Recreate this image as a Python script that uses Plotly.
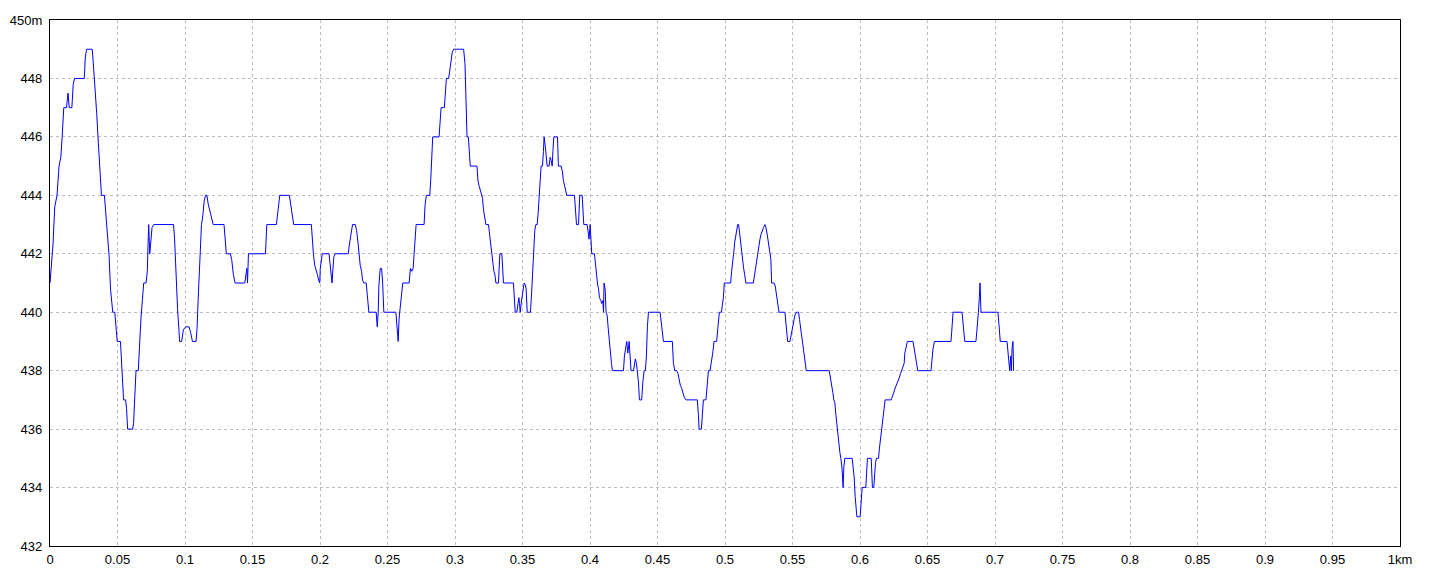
import plotly.graph_objects as go

# distance along the track (km) and elevation (m)
dist_km = [
    0, 0.001, 0.0022, 0.0035, 0.0052, 0.0067, 0.008, 0.009, 0.0102, 0.0122, 0.0134, 0.0142, 0.0162, 0.0172, 0.0182,
    0.0254, 0.0261, 0.0271, 0.0313, 0.0321, 0.0333, 0.0346, 0.0358, 0.0371, 0.0381, 0.0403, 0.0413, 0.0425, 0.0438,
    0.0448, 0.046, 0.0465, 0.048, 0.0488, 0.0498, 0.0522, 0.0527, 0.0537, 0.0545, 0.056, 0.0567, 0.0575, 0.0612,
    0.0619, 0.0629, 0.0637, 0.0654, 0.0664, 0.0674, 0.0684, 0.0694, 0.0711, 0.0721, 0.0726, 0.0731, 0.0739, 0.0749,
    0.0756, 0.0769, 0.0915, 0.0923, 0.093, 0.0938, 0.0945, 0.0955, 0.096, 0.0975, 0.0988, 0.1005, 0.103, 0.1042,
    0.1055, 0.1082, 0.109, 0.1097, 0.1104, 0.1112, 0.1122, 0.1132, 0.1142, 0.1152, 0.1162, 0.1172, 0.1184, 0.1197,
    0.1209, 0.1289, 0.1296, 0.1306, 0.1336, 0.1346, 0.1358, 0.1371, 0.1443, 0.1451, 0.1458, 0.1463, 0.147,
    0.1596, 0.1603, 0.1606, 0.1677, 0.1685, 0.1697, 0.1702, 0.1773, 0.1783, 0.1791, 0.1798, 0.1805, 0.1936, 0.1943,
    0.1951, 0.1961, 0.197, 0.198, 0.199, 0.1998, 0.2002, 0.201, 0.2017, 0.2067, 0.2074, 0.2081, 0.2089, 0.2096,
    0.2103, 0.2111, 0.2209, 0.2217, 0.2227, 0.2234, 0.2241, 0.2261, 0.2271, 0.2281, 0.2288, 0.2298, 0.2308, 0.2315,
    0.2325, 0.2342, 0.235, 0.2357, 0.2362, 0.2416, 0.2424, 0.2431, 0.2436, 0.2446, 0.2456, 0.2463, 0.2473, 0.2562,
    0.2571, 0.2579, 0.2586, 0.2596, 0.2606, 0.2613, 0.266, 0.267, 0.268, 0.269, 0.2697, 0.2704, 0.2712, 0.2771,
    0.2778, 0.2788, 0.2813, 0.282, 0.283, 0.2835, 0.2882, 0.2889, 0.2897, 0.2921, 0.2929, 0.2936, 0.2953, 0.2961,
    0.297, 0.298, 0.299, 0.3064, 0.3074, 0.3081, 0.3089, 0.3099, 0.3106, 0.3113, 0.3163, 0.317, 0.318, 0.3187, 0.3197,
    0.3204, 0.3211, 0.3221, 0.3229, 0.3248, 0.3256, 0.3263, 0.3271, 0.3278, 0.3288, 0.3295, 0.3303, 0.3322, 0.3327,
    0.3332, 0.3347, 0.3352, 0.3359, 0.3433, 0.3441, 0.3446, 0.3458, 0.3465, 0.3473, 0.3478, 0.3483, 0.349, 0.3498,
    0.3505, 0.3512, 0.352, 0.3527, 0.3535, 0.3559, 0.3569, 0.3576, 0.3584, 0.3591, 0.3599, 0.3609, 0.3616, 0.3623,
    0.3631, 0.3638, 0.3648, 0.3655, 0.366, 0.3668, 0.3675, 0.3683, 0.3697, 0.3705, 0.3712, 0.372, 0.3725, 0.3732,
    0.3759, 0.3766, 0.3786, 0.3796, 0.3803, 0.3811, 0.3818, 0.3828, 0.3885, 0.3892, 0.39, 0.3915, 0.3919, 0.3924,
    0.3942, 0.3947, 0.3954, 0.3979, 0.3986, 0.3993, 0.4001, 0.4008, 0.4013, 0.4033, 0.404, 0.4048, 0.4055, 0.4063,
    0.407, 0.408, 0.4087, 0.4095, 0.41, 0.4104, 0.4112, 0.4119, 0.4127, 0.4134, 0.4142, 0.4151, 0.4159, 0.4166,
    0.4248, 0.4255, 0.4265, 0.4272, 0.428, 0.429, 0.4297, 0.4304, 0.4322, 0.4329, 0.4336, 0.4344, 0.4351, 0.4359,
    0.4366, 0.4383, 0.4391, 0.4401, 0.441, 0.4418, 0.4425, 0.4433, 0.4519, 0.4529, 0.4536, 0.4544, 0.461, 0.4618,
    0.4628, 0.4642, 0.4652, 0.4662, 0.4669, 0.4679, 0.4689, 0.4697, 0.4711, 0.4795, 0.4803, 0.4808, 0.4825, 0.4832,
    0.484, 0.4859, 0.4869, 0.4877, 0.4889, 0.4899, 0.4909, 0.4919, 0.4938, 0.4948, 0.4958, 0.4973,
    0.4988, 0.4995, 0.5042, 0.5049, 0.5057, 0.5064, 0.5072, 0.5079, 0.5086, 0.5094, 0.5101, 0.5109, 0.5116, 0.5123,
    0.5131, 0.5138, 0.5145, 0.5155, 0.521, 0.5219, 0.5227, 0.5234, 0.5242, 0.5249, 0.5259, 0.5266, 0.5276, 0.5286,
    0.5296, 0.5303, 0.5313, 0.5321, 0.5333, 0.534, 0.5345, 0.5363, 0.5372, 0.5382, 0.5392, 0.54, 0.5444, 0.5454,
    0.5459, 0.5464, 0.5481, 0.5491, 0.5501, 0.551, 0.5518, 0.5528, 0.5545, 0.5552, 0.5562, 0.557, 0.5577, 0.5584,
    0.5594, 0.5602, 0.5772, 0.5782, 0.5789, 0.5799, 0.5806, 0.5814, 0.5821, 0.5829, 0.5836, 0.5844, 0.5851, 0.5858,
    0.5866, 0.5875, 0.588, 0.5888, 0.5942, 0.5949, 0.5957, 0.5964, 0.5972, 0.5977, 0.6001, 0.6009, 0.6016, 0.6043,
    0.6051, 0.6055, 0.6083, 0.6088, 0.6092, 0.6102, 0.6107, 0.6115, 0.6122, 0.6137, 0.6144, 0.6154, 0.6162, 0.6169,
    0.6176, 0.6186, 0.6231, 0.624, 0.625, 0.626, 0.627, 0.628, 0.629, 0.63, 0.6309, 0.6319, 0.6327, 0.6332, 0.6344,
    0.6351, 0.6393, 0.6401, 0.6408, 0.6418, 0.6428, 0.6526, 0.6534, 0.6541, 0.6551, 0.6674, 0.6682, 0.6689, 0.6756,
    0.6763, 0.6771, 0.6776, 0.6859, 0.6864, 0.6872, 0.6877, 0.6884, 0.6889, 0.6896, 0.7022, 0.7029, 0.7034, 0.7039,
    0.7089, 0.7096, 0.7104, 0.7109, 0.7116, 0.7121, 0.7126, 0.7133, 0.7138,
]

elev_m = [
    441, 441.5, 442.3, 443.6, 444, 445, 445.3, 446, 447, 447, 447.5, 447, 447, 447.8, 448,
    448, 448.7, 449, 449, 448.5, 447.8, 446.8, 445.8, 444.5, 444, 444, 443.3, 442.6, 441.9,
    440.8, 440.3, 440, 440, 439.4, 439, 439, 438.5, 437.6, 437, 437, 436.7, 436, 436,
    436.2, 437.2, 438, 438, 439.1, 439.8, 440.4, 441, 441, 441.4, 442.3, 443, 442, 442.5,
    442.9, 443, 443, 442.5, 441.6, 440.9, 440.1, 439.4, 439, 439, 439.4, 439.5, 439.5, 439.3,
    439, 439, 439.5, 440.4, 441.1, 441.9, 443, 443.3, 443.8, 444, 444, 443.7, 443.5, 443.2,
    443, 443, 442.6, 442, 442, 441.8, 441.3, 441, 441, 441.4, 441.5, 441, 442,
    442, 442.5, 443, 443, 443.4, 443.8, 444, 444, 443.65, 443.4, 443.15, 443, 443, 442.4,
    442, 441.6, 441.4, 441.3, 441.1, 441, 441.5, 441.9, 442, 442, 441.6, 441.4, 441, 441.5,
    441.9, 442, 442, 442.3, 442.65, 442.9, 443, 443, 442.8, 442.4, 442, 441.6, 441.4, 441.1,
    441, 441, 440.6, 440.3, 440, 440, 439.5, 440, 440.9, 441.5, 441.5, 441.1, 440, 440,
    439.5, 439, 439.8, 440.3, 440.8, 441, 441, 441.5, 441.4, 441.5, 442, 442.65, 443, 443,
    443.65, 444, 444, 444.5, 445.5, 446, 446, 446.5, 447, 447, 447.5, 448, 448, 448.3,
    448.6, 448.9, 449, 449, 448.5, 447, 446, 446, 445.3, 445, 445, 444.5, 444.3, 444.2, 444,
    443.9, 443.5, 443.15, 443, 443, 442.65, 442.3, 441.9, 441.6, 441.4, 441.3, 441, 441, 441.5,
    442, 442, 441.5, 441, 441, 440.5, 440, 440, 440.3, 440.5, 440.3, 440, 440.3, 440.6,
    440.8, 441, 440.95, 440.8, 440, 440, 440.8, 441.5, 442.3, 442.8, 443, 443, 443.4, 443.8,
    444.5, 445, 445, 445.5, 446, 445.7, 445.3, 445, 445, 445.3, 445.2, 445, 445.5, 446,
    446, 445, 445, 444.8, 444.5, 444.3, 444.2, 444, 444, 443.4, 443, 443, 443.65, 444,
    444, 443.5, 443, 443, 442.8, 442.5, 443, 442.5, 442, 442, 441.6, 441.3, 441, 440.8,
    440.5, 440.4, 440.3, 440.4, 440, 441, 440.8, 440, 439.9, 439.5, 439, 438.6, 438.25, 438,
    438, 438.5, 438.75, 439, 438.6, 439, 438.5, 438, 438, 438.25, 438.4, 438.25, 438, 437.6,
    437, 437, 437.6, 438, 438, 438.5, 439.5, 440, 440, 439.6, 439.25, 439, 439, 438.25,
    438, 438, 437.9, 437.6, 437.5, 437.4, 437.2, 437.1, 437, 437, 436.5, 436, 436, 436.5,
    437, 437, 437.6, 438, 438, 438.25, 438.6, 439, 439, 439.5, 440, 440,
    440.5, 441, 441, 441.4, 441.9, 442, 442.4, 442.65, 442.8, 443, 443, 442.65, 442.4, 442,
    441.8, 441.5, 441.3, 441, 441, 441.3, 441.5, 441.8, 442, 442.3, 442.5, 442.65, 442.8, 442.9,
    443, 442.9, 442.65, 442.4, 442, 441.8, 441, 441, 440.9, 440.5, 440.3, 440, 440, 439.6,
    439.25, 439, 439, 439.25, 439.5, 439.75, 439.9, 440, 440, 439.75, 439.4, 439, 438.75, 438.5,
    438.25, 438, 438, 437.75, 437.5, 437.25, 437, 436.9, 436.5, 436.1, 435.7, 435.5, 435.2, 435,
    434.7, 434, 434.7, 435, 435, 434.7, 434.35, 433.7, 433.35, 433, 433, 433.6, 434, 434,
    434.5, 435, 435, 434.5, 434, 434, 434.5, 434.85, 435, 435, 435.35, 435.75, 436.1, 436.5,
    436.75, 437, 437, 437.1, 437.25, 437.4, 437.5, 437.6, 437.75, 437.9, 438, 438.1, 438.25, 438.6, 438.9,
    439, 439, 438.75, 438.5, 438.25, 438, 438, 438.5, 438.75, 439, 439, 439.5, 440, 440,
    439.6, 439.25, 439, 439, 439.4, 439.75, 440, 440.5, 441, 440, 440, 439.6, 439.25, 439,
    439, 438.6, 438.25, 438, 438.5, 438, 438.75, 439, 438,
]

x_tick_vals = [i * 0.05 for i in range(21)]
x_tick_text = ["0", "0.05", "0.1", "0.15", "0.2", "0.25", "0.3", "0.35", "0.4", "0.45", "0.5",
               "0.55", "0.6", "0.65", "0.7", "0.75", "0.8", "0.85", "0.9", "0.95", "1km"]
y_tick_vals = [432, 434, 436, 438, 440, 442, 444, 446, 448, 450]
y_tick_text = ["432", "434", "436", "438", "440", "442", "444", "446", "448", "450m"]

fig = go.Figure()
fig.add_trace(go.Scatter(
    x=dist_km, y=elev_m, mode="lines",
    line=dict(color="#0000ff", width=1),
    hoverinfo="x+y", showlegend=False,
))

axis_common = dict(
    showline=True, linecolor="#000000", linewidth=1.2, mirror=True,
    showgrid=True, gridcolor="#bdbdbd", griddash="3px,3px", gridwidth=1,
    zeroline=False, ticks="", automargin=False,
    tickfont=dict(family="Liberation Sans Narrow, Liberation Sans, Arial, sans-serif", size=13, color="#000000"),
)

fig.update_xaxes(range=[0, 1], tickmode="array", tickvals=x_tick_vals, ticktext=x_tick_text,
                 ticklabelstandoff=1, **axis_common)
fig.update_yaxes(range=[432, 450], tickmode="array", tickvals=y_tick_vals, ticktext=y_tick_text,
                 ticklabelstandoff=4, **axis_common)

# the page body adds an 8px margin, so the figure is sized/placed to compensate
fig.update_layout(
    width=1432, height=568,
    margin=dict(l=42, r=40, t=12, b=30, pad=0),
    paper_bgcolor="#ffffff", plot_bgcolor="#ffffff",
)

fig.write_html("out.html")
